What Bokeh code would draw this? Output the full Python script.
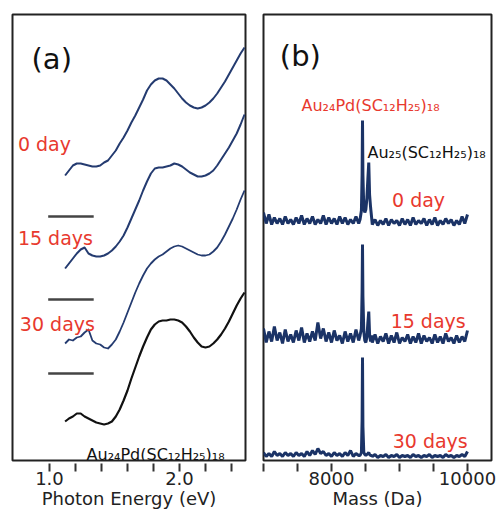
from bokeh.plotting import figure
from bokeh.models import Range1d, FixedTicker, Label, ColumnDataSource
from bokeh.layouts import row
from bokeh.embed import file_html
from bokeh.resources import INLINE

# ---------------- Panel (a): absorption spectra (stacked, arbitrary units) ----------------
energy = [1.12, 1.15, 1.18, 1.21, 1.24, 1.27, 1.30, 1.33, 1.36, 1.39,
          1.42, 1.45, 1.48, 1.51, 1.54, 1.57, 1.60, 1.63, 1.66, 1.69,
          1.72, 1.75, 1.78, 1.81, 1.84, 1.87, 1.90, 1.93, 1.96, 1.99,
          2.02, 2.05, 2.08, 2.11, 2.14, 2.17, 2.20, 2.23, 2.26, 2.29,
          2.32, 2.35, 2.38, 2.41, 2.44, 2.47, 2.50]

a_0day = [285, 290, 295, 297, 297, 296, 295, 294, 294, 295,
          298, 300, 305, 310, 317, 323, 330, 338, 345, 353,
          361, 370, 376, 380, 382, 382, 380, 376, 372, 367,
          362, 358, 355, 353, 352, 353, 355, 358, 362, 367,
          373, 379, 386, 393, 400, 407, 413]

a_15day = [192, 197, 202, 207, 211, 213, 207, 205, 204, 204,
           205, 207, 210, 214, 219, 225, 233, 242, 251, 260,
           270, 279, 287, 292, 293, 293, 294, 295, 297, 296,
           294, 291, 288, 286, 284, 284, 285, 287, 290, 295,
           301, 307, 313, 320, 327, 336, 346]

a_30day = [117, 121, 120, 123, 124, 128, 131, 120, 117, 116,
           113, 112, 116, 121, 129, 138, 148, 158, 168, 177,
           185, 192, 197, 201, 204, 206, 209, 212, 214, 215,
           214, 212, 210, 208, 206, 205, 205, 206, 209, 213,
           219, 226, 234, 242, 251, 261, 270]

a_ref = [39, 42, 44, 47, 47, 44, 42, 40, 38, 37,
         36, 37, 39, 44, 51, 60, 70, 82, 93, 104,
         114, 123, 131, 136, 139, 140, 140, 141, 141, 140,
         138, 134, 129, 123, 118, 114, 113, 114, 117, 121,
         126, 132, 139, 147, 155, 162, 168]

zero_levels = [244, 161, 87]
zero_e0 = [0.99, 0.99, 0.99]
zero_e1 = [1.34, 1.34, 1.34]

e_ticks = [1.0, 1.2, 1.4, 1.6, 1.8, 2.0, 2.2, 2.4]
e_tick_labels = {1.0: "1.0", 2.0: "2.0"}

# ---------------- Panel (b): mass spectra ----------------
mass_left = list(range(7000, 8401, 40))
mass_peak = [8420, 8440, 8450, 8456, 8462, 8475, 8490, 8505, 8520, 8535, 8548, 8560, 8575, 8590]
mass_right = list(range(8600, 10001, 40))
mass = mass_left + mass_peak + mass_right

i_0day = ([14, 3, 12, 2, 9, 3, 8, 2, 10, 3, 7, 2, 9, 3, 11, 2, 8, 3,
           10, 2, 7, 3, 11, 2, 9, 3, 8, 2, 10, 3, 9, 2, 7, 3, 10, 3]
          + [7, 16, 52, 106, 52, 18, 14, 17, 28, 48, 64, 32, 19, 9]
          + [2, 7, 1, 6, 2, 8, 1, 7, 3, 6, 1, 8, 2, 7, 1, 9, 2, 6,
             3, 8, 1, 7, 2, 9, 1, 6, 2, 8, 3, 7, 1, 6, 2, 10, 3, 12])
i_15day = ([18, 4, 15, 5, 20, 6, 14, 3, 17, 5, 12, 4, 16, 6, 19, 4, 13, 5,
            15, 6, 24, 8, 18, 5, 14, 4, 16, 6, 11, 3, 15, 5, 13, 4, 17, 6]
           + [11, 18, 55, 102, 50, 15, 6, 4, 9, 24, 35, 12, 5, 11]
           + [4, 12, 3, 10, 5, 13, 3, 11, 4, 14, 3, 9, 5, 12, 3, 10, 4, 13,
              3, 11, 5, 9, 3, 12, 4, 10, 3, 13, 5, 9, 3, 11, 4, 10, 5, 16])
i_30day = ([6, 2, 5, 2, 7, 3, 5, 2, 6, 3, 5, 2, 6, 3, 5, 2, 7, 3,
            8, 4, 10, 5, 7, 3, 5, 2, 6, 3, 5, 2, 6, 3, 8, 2, 5, 3]
           + [3, 6, 38, 101, 32, 6, 4, 3, 4, 5, 6, 4, 3, 3]
           + [2, 4, 1, 3, 2, 4, 1, 3, 2, 4, 1, 3, 2, 3, 1, 4, 2, 3,
              1, 3, 2, 4, 1, 3, 2, 3, 1, 4, 2, 3, 1, 3, 2, 4, 2, 7])
offsets = {"0 day": 234, "15 days": 114, "30 days": 2}

m_ticks = [7000, 7500, 8000, 8500, 9000, 9500, 10000]
m_tick_labels = {8000: "8000", 10000: "10000"}

FONT = "DejaVu Sans"
RED = "#e8392e"
BLUE = "#243b70"
SPEC = "#1b3366"


def make_fig(xr, fw, bl, br, ticks, tick_labels, xlabel):
    p = figure(frame_width=fw, frame_height=446, x_range=xr, y_range=Range1d(0, 446),
               output_backend="svg", toolbar_location=None, y_axis_location=None,
               min_border_left=bl, min_border_right=br, min_border_top=14, min_border_bottom=0,
               background_fill_color="white", border_fill_color="white")
    p.grid.visible = False
    p.outline_line_color = "#222"
    p.outline_line_width = 2
    ax = p.xaxis[0]
    ax.ticker = FixedTicker(ticks=ticks, minor_ticks=[])
    ax.major_label_overrides = {t: tick_labels.get(t, "") for t in ticks}
    ax.axis_line_color = None
    ax.major_tick_in = -3
    ax.major_tick_out = 11
    ax.major_tick_line_width = 2
    ax.major_tick_line_color = "#333"
    ax.minor_tick_line_color = None
    ax.major_label_text_font = FONT
    ax.major_label_text_font_size = "18px"
    ax.major_label_text_color = "#222"
    ax.major_label_standoff = 0
    ax.axis_label = xlabel
    ax.axis_label_text_font = FONT
    ax.axis_label_text_font_size = "18px"
    ax.axis_label_text_font_style = "normal"
    ax.axis_label_text_color = "#222"
    ax.axis_label_standoff = 0
    return p


def lab(p, x, y, text, color="#111", size="19px"):
    p.add_layout(Label(x=x, y=y, text=text, text_font=FONT, text_font_size=size,
                       text_color=color, text_align="left", text_baseline="alphabetic"))


# Panel (a)
pa = make_fig(Range1d(0.7154, 2.5077), 233, 12, 7, e_ticks, e_tick_labels, "Photon Energy (eV)")
pa.segment(x0=zero_e0, x1=zero_e1, y0=zero_levels, y1=zero_levels, line_color="#444", line_width=2.5)
pa.line(energy, a_0day, line_color=BLUE, line_width=2, line_join="round")
pa.line(energy, a_15day, line_color=BLUE, line_width=2, line_join="round")
pa.line(energy, a_30day, line_color=BLUE, line_width=1.8, line_join="round")
pa.line(energy, a_ref, line_color="#111", line_width=2.2, line_join="round")
lab(pa, 0.862, 402, "(a)", size="29px")
lab(pa, 0.757, 317, "0 day", RED)
lab(pa, 0.757, 223, "15 days", RED)
lab(pa, 0.772, 137, "30 days", RED)
lab(pa, 1.285, 6, "Au₂₄Pd(SC₁₂H₂₅)₁₈", "#111", "16px")

# Panel (b)
pb = make_fig(Range1d(7000, 10353), 228, 11, 8, m_ticks, m_tick_labels, "Mass (Da)")
for name, vals in [("0 day", i_0day), ("15 days", i_15day), ("30 days", i_30day)]:
    src = ColumnDataSource(dict(m=mass, y=[offsets[name] + v for v in vals]))
    pb.line("m", "y", source=src, line_color=SPEC, line_width=3)
lab(pb, 7240, 405, "(b)", size="29px")
lab(pb, 7559, 355, "Au₂₄Pd(SC₁₂H₂₅)₁₈", RED, "16px")
lab(pb, 8529, 308, "Au₂₅(SC₁₂H₂₅)₁₈", "#111", "16px")
lab(pb, 8890, 261, "0 day", RED)
lab(pb, 8870, 140, "15 days", RED)
lab(pb, 8900, 20, "30 days", RED)

layout = row(pa, pb)
open("out.html", "w").write(file_html(layout, INLINE))
